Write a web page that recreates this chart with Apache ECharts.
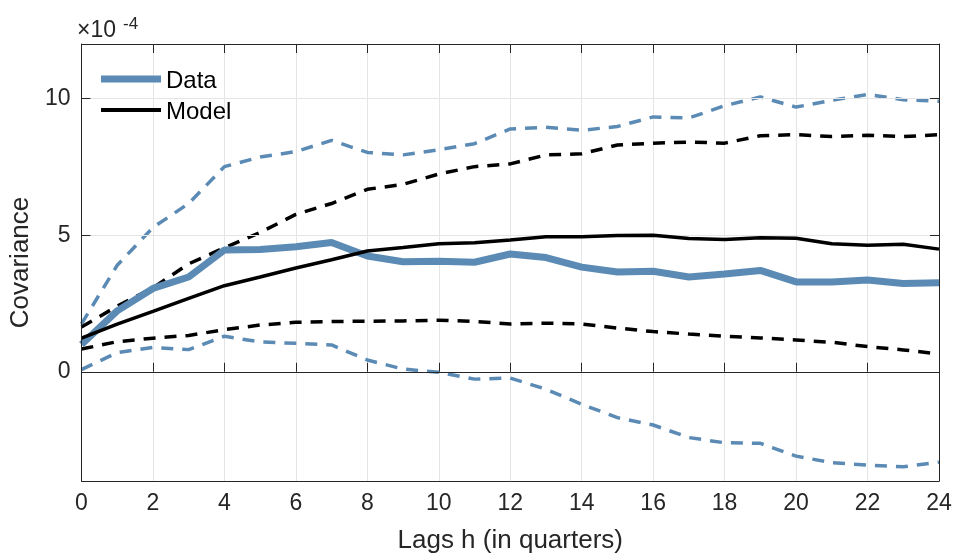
<!DOCTYPE html>
<html>
<head>
<meta charset="utf-8">
<script src="https://cdn.jsdelivr.net/npm/echarts@6/dist/echarts.min.js"></script>
<style>html,body{margin:0;padding:0;background:#fff;}#c{width:955px;height:559px;}</style>
</head>
<body>
<div id="c"></div>
<script>
const lags = [0,1,2,3,4,5,6,7,8,9,10,11,12,13,14,15,16,17,18,19,20,21,22,23,24];
const dataMean  = [1.0, 2.23, 3.05, 3.47, 4.46, 4.48, 4.58, 4.73, 4.24, 4.03, 4.05, 4.01, 4.31, 4.18, 3.83, 3.65, 3.68, 3.47, 3.58, 3.71, 3.29, 3.29, 3.36, 3.23, 3.26];
const dataUpper = [1.75, 3.9, 5.28, 6.16, 7.51, 7.86, 8.06, 8.47, 8.03, 7.94, 8.13, 8.35, 8.89, 8.95, 8.84, 8.98, 9.33, 9.29, 9.74, 10.06, 9.69, 9.94, 10.15, 9.96, 9.9];
const dataLower = [0.08, 0.7, 0.89, 0.81, 1.3, 1.09, 1.04, 0.98, 0.43, 0.1, -0.02, -0.27, -0.23, -0.64, -1.19, -1.68, -1.95, -2.41, -2.6, -2.62, -3.09, -3.33, -3.42, -3.48, -3.31];
const modelMean  = [1.23, 1.74, 2.21, 2.69, 3.15, 3.47, 3.8, 4.1, 4.42, 4.55, 4.69, 4.72, 4.82, 4.94, 4.94, 4.99, 5.0, 4.88, 4.84, 4.91, 4.89, 4.69, 4.63, 4.67, 4.49];
const modelUpper = [1.64, 2.4, 3.07, 3.95, 4.54, 5.1, 5.76, 6.16, 6.68, 6.86, 7.24, 7.51, 7.61, 7.94, 7.98, 8.3, 8.37, 8.41, 8.37, 8.64, 8.68, 8.61, 8.66, 8.61, 8.68];
const modelLower = [0.83, 1.1, 1.23, 1.33, 1.54, 1.71, 1.81, 1.84, 1.85, 1.86, 1.89, 1.84, 1.75, 1.78, 1.75, 1.6, 1.47, 1.38, 1.3, 1.24, 1.16, 1.08, 0.92, 0.8, 0.65];
const xTicks = [0,2,4,6,8,10,12,14,16,18,20,22,24];
const yTicks = [0, 5, 10];
const yStops = ['-4','-3','-2','-1','0','1','2','3','4','5','6','7','8','9','10','11','12'];
const legendNames = ['Data', 'Model'];
const xLabel = 'Lags h (in quarters)';
const yLabel = 'Covariance';
const exponentBase = '×10';
const exponentText = '-4';

const BLUE = '#5b8bb5';
const INK = '#262626';
const GRID = '#e5e5e5';
const FONT = 'Liberation Sans, Arial, Helvetica, sans-serif';
const pair = arr => lags.map((x, i) => [x, arr[i]]);
const xStops = lags.map(String);
const isMajorY = (idx, val) => yTicks.indexOf(Number(val)) >= 0;
const isMajorX = (idx, val) => xTicks.indexOf(Number(val)) >= 0;

const chart = echarts.init(document.getElementById('c'), null, {renderer: 'canvas'});
const axisLineStyle = {color: INK, width: 1};
const tick = fn => ({show: true, inside: true, length: 9, lineStyle: {color: INK, width: 1}, interval: fn});
chart.setOption({
  animation: false,
  backgroundColor: '#fff',
  grid: {left: 79, right: 16, top: 44, bottom: 78, containLabel: false},
  xAxis: [{
    type: 'value', min: 0, max: 24, interval: 2, position: 'bottom', z: 1,
    name: xLabel, nameLocation: 'middle', nameGap: 47,
    nameTextStyle: {fontFamily: FONT, fontSize: 26, color: INK},
    axisLine: {show: true, onZero: false, lineStyle: axisLineStyle},
    axisTick: {show: false},
    axisLabel: {fontFamily: FONT, fontSize: 23, color: INK, margin: 11},
    splitLine: {show: true, lineStyle: {color: GRID, width: 1}}
  }, {
    type: 'category', data: xStops, boundaryGap: false, position: 'bottom', z: 10,
    axisLine: {show: false},
    axisTick: tick(isMajorX),
    axisLabel: {show: false}, splitLine: {show: false}
  }, {
    type: 'category', data: xStops, boundaryGap: false, position: 'top', z: 10,
    axisLine: {show: true, onZero: false, lineStyle: axisLineStyle},
    axisTick: tick(isMajorX),
    axisLabel: {show: false}, splitLine: {show: false}
  }],
  yAxis: [{
    type: 'value', min: -4, max: 12, interval: 1, position: 'left', z: 10,
    name: yLabel, nameLocation: 'middle', nameGap: 46,
    nameTextStyle: {fontFamily: FONT, fontSize: 26, color: INK},
    axisLine: {show: true, onZero: false, lineStyle: axisLineStyle},
    axisTick: {show: false},
    axisLabel: {fontFamily: FONT, fontSize: 23, color: INK, margin: 11, customValues: yTicks},
    splitLine: {show: false}
  }, {
    type: 'category', data: yStops, boundaryGap: false, position: 'left', z: 10,
    axisLine: {show: false},
    axisTick: tick(isMajorY),
    axisLabel: {show: false}, splitLine: {show: false}
  }, {
    type: 'category', data: yStops, boundaryGap: false, position: 'right', z: 10,
    axisLine: {show: true, onZero: false, lineStyle: axisLineStyle},
    axisTick: tick(isMajorY),
    axisLabel: {show: false}, splitLine: {show: false}
  }],
  graphic: [
    {type: 'text', x: 77, y: 31, z: 20,
     style: {text: exponentBase, fontFamily: FONT, fontSize: 23, fill: INK, verticalAlign: 'middle'}},
    {type: 'text', x: 123, y: 24, z: 20,
     style: {text: exponentText, fontFamily: FONT, fontSize: 17, fill: INK, verticalAlign: 'middle'}},
    {type: 'line', shape: {x1: 101, y1: 79, x2: 161, y2: 79}, style: {stroke: BLUE, lineWidth: 7}, z: 20},
    {type: 'line', shape: {x1: 101, y1: 110, x2: 161, y2: 110}, style: {stroke: '#000', lineWidth: 4}, z: 20},
    {type: 'text', x: 166, y: 81, z: 20,
     style: {text: legendNames[0], fontFamily: FONT, fontSize: 24, fill: '#000', verticalAlign: 'middle'}},
    {type: 'text', x: 166, y: 112, z: 20,
     style: {text: legendNames[1], fontFamily: FONT, fontSize: 24, fill: '#000', verticalAlign: 'middle'}}
  ],
  series: [
    {
      name: 'grid', type: 'line', data: [], silent: true,
      markLine: {
        symbol: 'none', silent: true, label: {show: false},
        data: [
          {yAxis: 5, lineStyle: {color: GRID, width: 1, type: 'solid'}},
          {yAxis: 10, lineStyle: {color: GRID, width: 1, type: 'solid'}},
          {yAxis: 0, lineStyle: {color: INK, width: 1, type: 'solid'}}
        ]
      }
    },
    {name: 'DataUpper', type: 'line', data: pair(dataUpper), symbol: 'none',
     lineStyle: {color: BLUE, width: 3.5, type: [12, 9]}, z: 3},
    {name: 'DataLower', type: 'line', data: pair(dataLower), symbol: 'none',
     lineStyle: {color: BLUE, width: 3.5, type: [12, 9]}, z: 3},
    {name: 'ModelUpper', type: 'line', data: pair(modelUpper), symbol: 'none',
     lineStyle: {color: '#000', width: 3.5, type: [12, 9]}, z: 3},
    {name: 'ModelLower', type: 'line', data: pair(modelLower), symbol: 'none',
     lineStyle: {color: '#000', width: 3.5, type: [12, 9]}, z: 3},
    {name: 'Data', type: 'line', data: pair(dataMean), symbol: 'none', color: BLUE,
     lineStyle: {color: BLUE, width: 7}, z: 4},
    {name: 'Model', type: 'line', data: pair(modelMean), symbol: 'none', color: '#000',
     lineStyle: {color: '#000', width: 3.5}, z: 5}
  ]
});
</script>
</body>
</html>
